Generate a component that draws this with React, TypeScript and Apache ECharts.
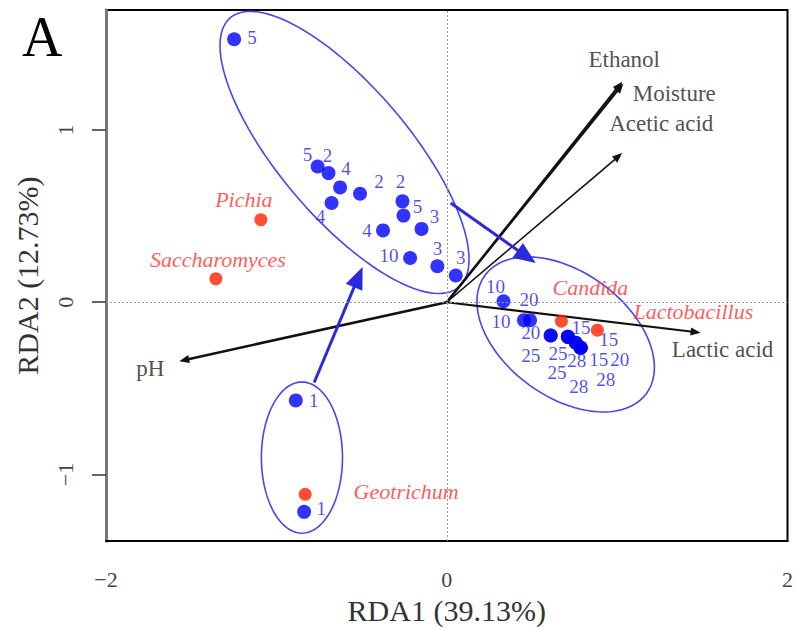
import React, { useEffect, useRef } from "react";
import * as echarts from "echarts";

// ---- Samples (fermentation day labels) ----
const sampleLabels = [
  "5", "5", "2", "4", "2", "4", "2", "5", "3", "4", "10", "3", "3", "1", "1",
  "10", "20", "10", "20", "25", "25", "25", "28", "28", "28", "15", "15", "15", "20",
];
const sampleX = [
  -1.248, -0.758, -0.694, -0.626, -0.509, -0.676, -0.26, -0.254, -0.148, -0.374, -0.215, -0.055, 0.053, -0.886, -0.837,
  0.333, 0.489, 0.453, 0.61, 0.61, 0.711, 0.711, 0.757, 0.786, 0.786, 0.711, 0.757, 0.786, 0.786,
];
const sampleY = [
  1.527, 0.788, 0.75, 0.667, 0.63, 0.576, 0.586, 0.503, 0.426, 0.417, 0.257, 0.209, 0.155, -0.57, -1.217,
  0.006, -0.104, -0.104, -0.193, -0.193, -0.201, -0.201, -0.235, -0.264, -0.264, -0.201, -0.235, -0.264, -0.264,
];
// label placement (pixels) - styling only
const sampleLabelDX = [18, -10, -1, 6, 19, -11, -2, 14, 13, -16, -21, 0, 5, 18, 17, -8, -1, -23, -20, -20, -10, -11, 1, -2, 25, 13, 33, 18, 39];
const sampleLabelDY = [-2, -12, -18, -19, -12, 13, -20, -9, -12, 0, -2, -18, -18, 0, -3, -15, -21, 1, -3, 20, 17, 36, 18, 39, 32, -9, -3, 12, 12];

// ---- Species ----
const speciesNames = ["Pichia", "Saccharomyces", "Geotrichum", "Candida", "Lactobacillus"];
const speciesX = [-1.091, -1.355, -0.831, 0.673, 0.884];
const speciesY = [0.479, 0.136, -1.115, -0.11, -0.162];
const speciesLabelDX = [-17, 2, 101, 29, 96];
const speciesLabelDY = [-20, -19, -3, -34, -19];

// ---- Environmental vectors ----
const envNames = ["Ethanol", "Moisture", "Acetic acid", "Lactic acid", "pH"];
const envX = [1.03, 1.036, 1.03, 1.49, -1.57];
const envY = [1.281, 1.27, 0.866, -0.177, -0.342];
const envLabelDX = [2, 51, 39, 22, -29];
const envLabelDY = [-22, 10, -30, 17, 7];
const envLineWidth = [2.2, 2.2, 1.6, 2.2, 2.6];

// ---- Group ellipses ----
const ellipseCX = [-0.6, 0.698, -0.85];
const ellipseCY = [0.87, -0.187, -0.902];
const ellipseA = [1.03, 0.585, 0.238];
const ellipseB = [0.38, 0.363, 0.439];
const ellipseAngle = [-49.3, -35.5, 0];

// ---- Succession arrows ----
const trajFromX = [-0.778, 0.023];
const trajFromY = [-0.466, 0.576];
const trajToX = [-0.494, 0.522];
const trajToY = [0.205, 0.228];

// ---- Axes ----
const xMin = -2;
const xMax = 2;
const yMin = -1.387;
const yMax = 1.697;
const yTicks = [-1, 0, 1];

const SERIF = "Liberation Serif";
const minus = (v: number) => String(v).replace("-", "\u2212");

function arrowRenderer(color: string, headLen: number, headW: number, widths: number[] | number) {
  return (params: any, api: any) => {
    const p0 = api.coord([api.value(0), api.value(1)]);
    const p1 = api.coord([api.value(2), api.value(3)]);
    const dx = p1[0] - p0[0];
    const dy = p1[1] - p0[1];
    const L = Math.hypot(dx, dy) || 1;
    const ux = dx / L;
    const uy = dy / L;
    const bx = p1[0] - ux * headLen;
    const by = p1[1] - uy * headLen;
    const left = [bx - uy * headW, by + ux * headW];
    const right = [bx + uy * headW, by - ux * headW];
    const lw = Array.isArray(widths) ? widths[params.dataIndex] : widths;
    return {
      type: "group",
      children: [
        {
          type: "line",
          shape: { x1: p0[0], y1: p0[1], x2: bx + ux * 2, y2: by + uy * 2 },
          style: { stroke: color, lineWidth: lw },
        },
        {
          type: "polygon",
          shape: { points: [p1, left, right] },
          style: { fill: color },
        },
      ],
    };
  };
}

export default function App() {
  const ref = useRef<HTMLDivElement>(null);

  useEffect(() => {
    if (!ref.current) return;
    const chart = echarts.init(ref.current, undefined, { renderer: "svg" });

    const option: any = {
      animation: false,
      backgroundColor: "#fff",
      textStyle: { fontFamily: SERIF },
      title: {
        text: "A",
        left: 17,
        top: 4,
        textStyle: { fontSize: 56, fontWeight: "normal", fontFamily: SERIF, color: "#000" },
      },
      grid: {
        left: 106,
        top: 10,
        right: 8,
        bottom: 88,
        show: true,
        borderColor: "#000",
        borderWidth: 2,
        backgroundColor: "transparent",
      },
      xAxis: {
        type: "value",
        min: xMin,
        max: xMax,
        interval: 2,
        axisLine: { show: true, onZero: false, lineStyle: { color: "#000", width: 2 } },
        axisTick: { show: false },
        splitLine: { show: false },
        axisLabel: {
          margin: 27,
          fontSize: 22,
          color: "#444",
          fontFamily: SERIF,
          formatter: (v: number) => minus(v),
        },
        name: "RDA1 (39.13%)",
        nameLocation: "middle",
        nameGap: 50,
        nameTextStyle: { fontSize: 30, color: "#333", fontFamily: SERIF },
      },
      yAxis: {
        type: "value",
        min: yMin,
        max: yMax,
        axisLine: { show: true, onZero: false, lineStyle: { color: "#777", width: 3 } },
        axisTick: {
          show: true,
          length: 14,
          customValues: yTicks,
          lineStyle: { color: "#333", width: 1.5 },
        },
        splitLine: { show: false },
        axisLabel: {
          customValues: yTicks,
          rotate: 90,
          margin: 30,
          fontSize: 22,
          color: "#444",
          fontFamily: SERIF,
          formatter: (v: number) => minus(v),
        },
        name: "RDA2 (12.73%)",
        nameLocation: "middle",
        nameGap: 64,
        nameRotate: 90,
        nameTextStyle: { fontSize: 30, color: "#333", fontFamily: SERIF },
      },
      series: [
        {
          type: "custom",
          name: "ellipses",
          coordinateSystem: "cartesian2d",
          silent: true,
          z: 2,
          data: ellipseCX.map((cx, i) => [cx, ellipseCY[i], ellipseA[i], ellipseB[i], ellipseAngle[i]]),
          encode: { x: 0, y: 1 },
          renderItem: (params: any, api: any) => {
            const cx = api.value(0);
            const cy = api.value(1);
            const a = api.value(2);
            const b = api.value(3);
            const ang = (api.value(4) * Math.PI) / 180;
            const pts: number[][] = [];
            for (let k = 0; k <= 120; k++) {
              const t = (k / 120) * 2 * Math.PI;
              const ex = a * Math.cos(t);
              const ey = b * Math.sin(t);
              pts.push(
                api.coord([
                  cx + ex * Math.cos(ang) - ey * Math.sin(ang),
                  cy + ex * Math.sin(ang) + ey * Math.cos(ang),
                ])
              );
            }
            return {
              type: "polyline",
              shape: { points: pts },
              style: { fill: null, stroke: "#4646ee", lineWidth: 1.6 },
            };
          },
        },
        {
          type: "custom",
          name: "env",
          coordinateSystem: "cartesian2d",
          silent: true,
          z: 3,
          data: envX.map((x, i) => [0, 0, x, envY[i]]),
          encode: { x: [0, 2], y: [1, 3] },
          renderItem: arrowRenderer("#111", 10, 4, envLineWidth),
        },
        {
          type: "custom",
          name: "succession",
          coordinateSystem: "cartesian2d",
          silent: true,
          z: 3,
          data: trajFromX.map((x, i) => [x, trajFromY[i], trajToX[i], trajToY[i]]),
          encode: { x: [0, 2], y: [1, 3] },
          renderItem: arrowRenderer("#2b2bdc", 22, 9, 3),
        },
        {
          type: "scatter",
          name: "samples",
          z: 4,
          symbolSize: 14,
          itemStyle: { color: "#0000ff" },
          data: sampleX.map((x, i) => ({
            value: [x, sampleY[i]],
            name: sampleLabels[i],
            label: { offset: [sampleLabelDX[i], sampleLabelDY[i]] },
          })),
          label: {
            show: true,
            position: "inside",
            formatter: (p: any) => p.name,
            color: "#1f1fe6",
            fontSize: 19,
            fontFamily: SERIF,
          },
          markLine: {
            silent: true,
            symbol: "none",
            label: { show: false },
            lineStyle: { type: [2, 2], color: "#999", width: 1 },
            data: [{ xAxis: 0 }, { yAxis: 0 }],
          },
        },
        {
          type: "scatter",
          name: "species",
          z: 5,
          symbolSize: 13,
          itemStyle: { color: "#ff2200" },
          data: speciesX.map((x, i) => ({
            value: [x, speciesY[i]],
            name: speciesNames[i],
            label: { offset: [speciesLabelDX[i], speciesLabelDY[i]] },
          })),
          label: {
            show: true,
            position: "inside",
            formatter: (p: any) => p.name,
            color: "#ff3030",
            fontStyle: "italic",
            fontSize: 22,
            fontFamily: SERIF,
          },
        },
        {
          type: "scatter",
          name: "envLabels",
          z: 6,
          symbolSize: 0.1,
          itemStyle: { color: "rgba(0,0,0,0)" },
          data: envX.map((x, i) => ({
            value: [x, envY[i]],
            name: envNames[i],
            label: { offset: [envLabelDX[i], envLabelDY[i]] },
          })),
          label: {
            show: true,
            position: "inside",
            formatter: (p: any) => p.name,
            color: "#222",
            fontSize: 23,
            fontFamily: SERIF,
          },
        },
      ],
    };

    chart.setOption(option);
    return () => chart.dispose();
  }, []);

  return (
    <div
      ref={ref}
      style={{ position: "fixed", left: 0, top: 0, width: 796, height: 630, background: "#fff" }}
    />
  );
}
